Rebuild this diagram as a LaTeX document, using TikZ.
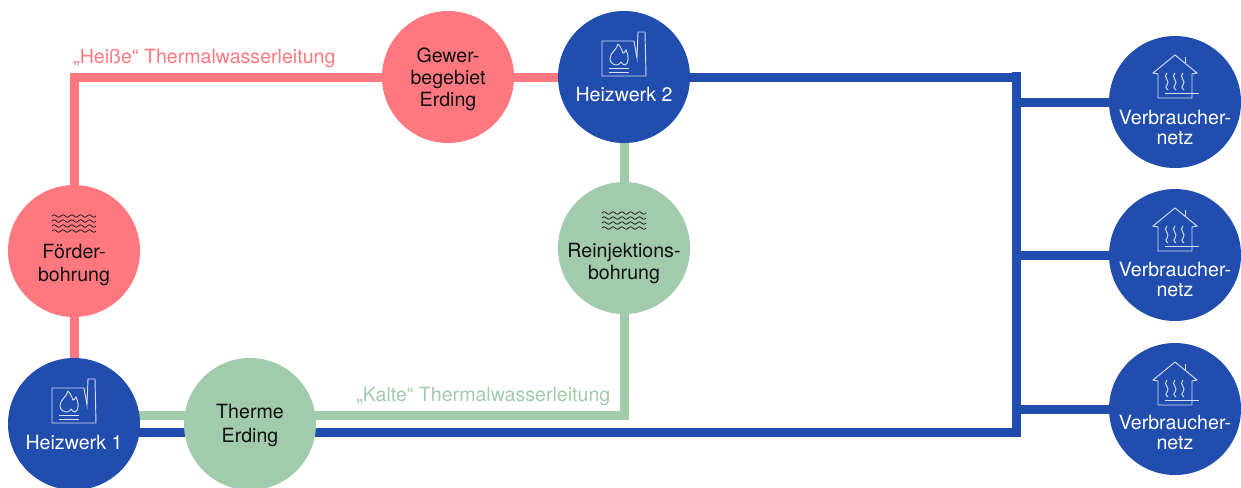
\documentclass[tikz,border=0pt]{standalone}
\usepackage{fontspec}
\setmainfont{TeX Gyre Heros}
\usetikzlibrary{backgrounds}
\definecolor{hot}{HTML}{FF7880}
\definecolor{cold}{HTML}{A1CBAB}
\definecolor{net}{HTML}{214DAE}
\definecolor{ink}{HTML}{111111}
\tikzset{
  x=0.75pt,y=-0.75pt,
  disc/.style={circle,minimum size=99pt,inner sep=0pt,fill=#1},
  pipe/.style={line width=6.75pt,draw=#1},
  cap/.style={font=\fontsize{14.7pt}{16.4pt}\selectfont,align=center,inner sep=0pt,text=#1},
  smallcap/.style={font=\fontsize{14.7pt}{15pt}\selectfont,align=center,inner sep=0pt,text=white},
  pipelabel/.style={font=\fontsize{14.7pt}{16pt}\selectfont,inner sep=0pt,text=#1},
  icon/.style={line width=0.7pt,draw=white!82!net,line join=miter},
  waves/.pic={
    \foreach \r in {-35,-30,-25,-20}{
      \draw[line width=0.55pt,draw=ink] plot[smooth,domain=-22:22,samples=41] (\x,{\r+1.2*sin(\x*360/8.8)});
    }
  },
  plant/.pic={
    \draw[icon] (-22,-36) -- (10,-36) -- (13,-19) -- (14,-45) -- (21,-45) -- (22,-1) -- (-22,-1) -- cycle;
    \draw[icon] (-6,-33) .. controls (-7,-27) and (-14,-25) .. (-14,-18) .. controls (-14,-14) and (-10,-12) .. (-7,-12)
       .. controls (-5,-12) and (-4,-14) .. (-3,-15) .. controls (-2,-13) and (0,-12) .. (1,-12)
       .. controls (5,-13) and (5,-22) .. (2,-27) .. controls (1,-25) and (0,-24) .. (-1,-24) .. controls (-2,-27) and (-4,-31) .. (-6,-33);
    \draw[icon] (-15,-9) -- (5,-9);
    \draw[icon] (-15,-5) -- (5,-5);
  },
  home/.pic={
    \draw[icon] (-17,-28) -- (-22,-29) -- (0,-47) -- (22,-29) -- (17,-28) -- (17,-4) -- (-17,-4) -- cycle;
    \draw[icon] (10,-39) -- (10,-45);
    \draw[icon] (-10,-9) -- (24,-9);
    \foreach \w in {-8,0,8}{
      \draw[icon] (\w,-29) .. controls (\w-5,-25) and (\w+4,-21) .. (\w,-17) .. controls (\w-3,-14) and (\w+1,-13) .. (\w+1,-12);
    }
  }
}
\begin{document}
\begin{tikzpicture}
\useasboundingbox (0,0) rectangle (1241,487);
% discs
\node[disc=hot]  (gew) at (448,77) {};
\node[disc=net]  (hw2) at (624,77) {};
\node[disc=hot]  (foe) at (74,251) {};
\node[disc=cold] (rei) at (624,248) {};
\node[disc=net]  (hw1) at (74,424) {};
\node[disc=cold] (the) at (250,424) {};
\node[disc=net]  (vb1) at (1175,102) {};
\node[disc=net]  (vb2) at (1175,255) {};
\node[disc=net]  (vb3) at (1175,409) {};
% routing points
\coordinate (hotcorner) at (foe |- gew);
\coordinate (coldstart) at (74,415);
\coordinate (coldcorner) at (rei |- coldstart);
\coordinate (netstart) at (74,432);
\coordinate (busbottom) at (1016.5,436.5);
\coordinate (bustop) at (1016.5,72);
\coordinate (busA) at (bustop |- vb1);
\coordinate (busB) at (bustop |- vb2);
\coordinate (busC) at (bustop |- vb3);
\coordinate (busK) at (bustop |- netstart);
\coordinate (busH) at (bustop |- hw2);
\begin{scope}[on background layer]
  \draw[pipe=hot] (hw1.center) -- (foe.center) -- (hotcorner) -- (gew.center) -- (hw2.center);
  \draw[pipe=cold] (hw2.center) -- (rei.center) -- (coldcorner) -- (coldstart);
  \draw[pipe=net] (hw2.center) -- (busH);
  \draw[pipe=net] (netstart) -- (busK);
  \draw[pipe=net] (bustop) -- (busbottom);
  \draw[pipe=net] (busA) -- (vb1.center);
  \draw[pipe=net] (busB) -- (vb2.center);
  \draw[pipe=net] (busC) -- (vb3.center);
\end{scope}
% icons
\pic at (foe) {waves};
\pic at (rei) {waves};
\pic at (hw1) {plant};
\pic at (hw2) {plant};
\pic at (vb1) {home};
\pic at (vb2) {home};
\pic at (vb3) {home};
% captions
\node[cap=ink]   (tgew) at (448,79.5) {Gewer-\\begebiet\\Erding};
\node[cap=white] (thw2) at (624,94) {Heizwerk 2};
\node[cap=ink]   (tfoe) at (74,265) {Förder-\\[1.2pt]bohrung};
\node[cap=ink]   (trei) at (624,263.5) {Reinjektions-\\bohrung};
\node[cap=white] (thw1) at (74,442) {Heizwerk 1};
\node[cap=ink]   (tthe) at (250,425.5) {Therme\\[1.2pt]Erding};
\node[smallcap]  (tvb1) at (1175,127) {Verbraucher-\\netz};
\node[smallcap]  (tvb2) at (1175,279) {Verbraucher-\\netz};
\node[smallcap]  (tvb3) at (1175,432) {Verbraucher-\\netz};
\node[pipelabel=hot,anchor=west]  (lhot)  at (73,58)   {„Heiße“ Thermalwasserleitung};
\node[pipelabel=cold,anchor=west] (lcold) at (356,396) {„Kalte“ Thermalwasserleitung};
\end{tikzpicture}
\end{document}
